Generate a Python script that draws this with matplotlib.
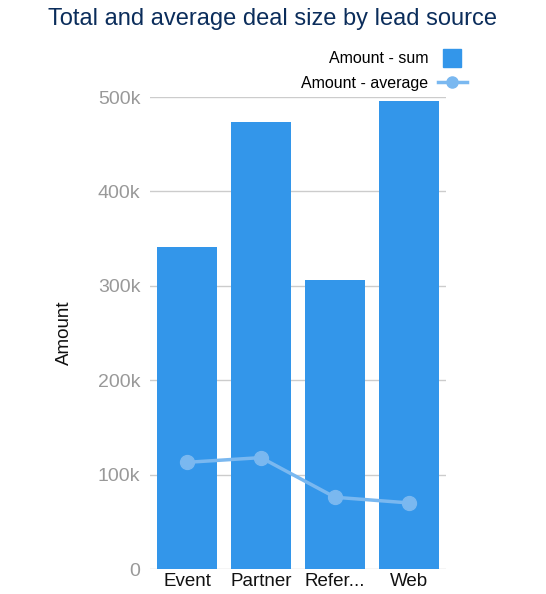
import matplotlib.pyplot as plt
from matplotlib.lines import Line2D
from matplotlib.ticker import FuncFormatter

plt.rcParams['font.family'] = ['Liberation Sans', 'DejaVu Sans']

sources = ["Event", "Partner", "Refer...", "Web"]
amount_sum = [341000, 474000, 306000, 496000]
amount_avg = [113000, 118000, 76000, 70000]

bar_color = "#3396ea"
line_color = "#7ab8f0"

fig = plt.figure(figsize=(5.46, 5.94), dpi=100)
ax = fig.add_axes([150 / 546, 25 / 594, 296 / 546, 472 / 594])

x = range(len(sources))
ax.bar(x, amount_sum, width=0.8, color=bar_color, zorder=2)
ax.plot(x, amount_avg, color=line_color, linewidth=2.5, marker="o",
        markersize=10, zorder=3)

ax.set_xlim(-0.5, len(sources) - 0.5)
ax.set_ylim(0, 500000)
ax.set_yticks(range(0, 500001, 100000))
ax.yaxis.set_major_formatter(FuncFormatter(lambda v, p: "0" if v == 0 else f"{int(v / 1000)}k"))
ax.set_xticks(list(x))
ax.set_xticklabels(sources)

ax.grid(axis="y", color="#cccccc", linewidth=1, zorder=0)
for s in ax.spines.values():
    s.set_visible(False)
ax.tick_params(axis="y", length=0, pad=7, labelsize=14, labelcolor="#999999")
ax.tick_params(axis="x", length=0, pad=3, labelsize=13.5, labelcolor="#111111")
ax.set_ylabel("Amount", fontsize=13.5, labelpad=18, color="#111111")

fig.text(0.5, 0.968, "Total and average deal size by lead source",
         ha="center", va="center", fontsize=17, color="#0b2d5b")

handles = [
    Line2D([], [], linestyle="none", marker="s", markersize=13,
           markerfacecolor=bar_color, markeredgecolor=bar_color),
    Line2D([], [], color=line_color, linewidth=2.5, marker="o", markersize=8),
]
fig.legend(handles, ["Amount - sum", "Amount - average"], loc="upper right",
           bbox_to_anchor=(473 / 546, 1 - 45 / 594), frameon=False,
           markerfirst=False, fontsize=11.5, handlelength=1.8, labelspacing=0.6,
           handletextpad=0.6, borderaxespad=0)

fig.savefig("out.png", dpi=100)
